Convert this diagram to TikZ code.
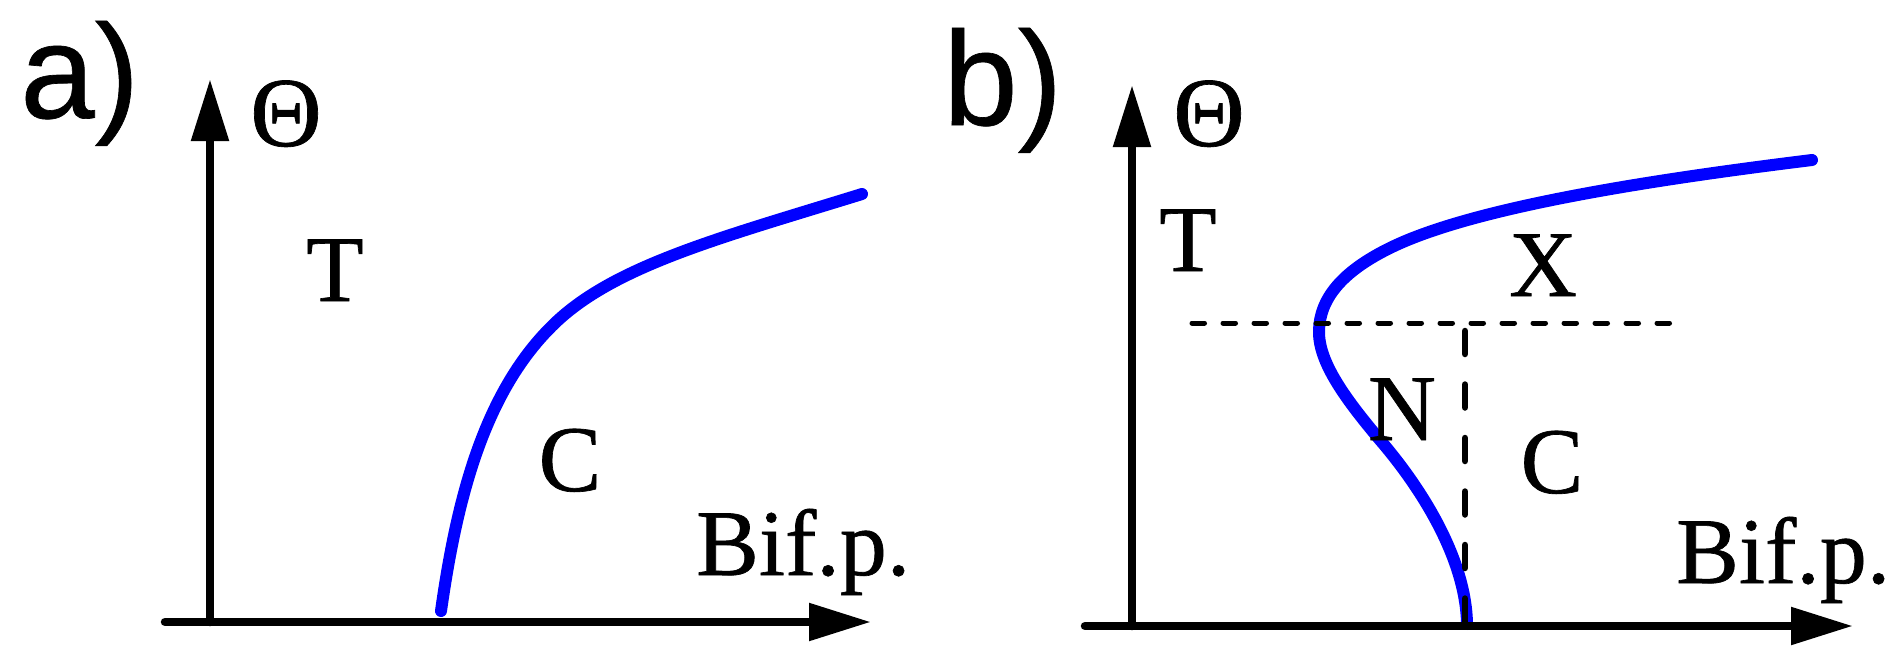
\documentclass[tikz,border=0pt]{standalone}
\usepackage{fontspec}
\setmainfont{Liberation Serif}[FakeBold=0.7]
\newfontfamily\labfont{Liberation Sans}[FakeBold=0.5]
\usetikzlibrary{arrows.meta}
\begin{document}
\begin{tikzpicture}[x=1pt,y=-1pt,
  axis/.style={line width=8.5pt, line cap=round, -{Triangle[length=62pt,width=36pt]}},
  bifcurve/.style={blue, line width=12pt, line cap=round, line join=round},
  hdash/.style={line width=5pt, line cap=round, dash pattern=on 12.5pt off 18.5pt},
  vdash/.style={line width=6.5pt, line cap=round, dash pattern=on 23pt off 30.5pt},
  lab/.style={font=\fontsize{94}{100}\selectfont, inner sep=0pt, anchor=base},
  panel/.style={font=\labfont\fontsize{134}{140}\selectfont, inner sep=0pt, anchor=base west}]
\useasboundingbox (0,0) rectangle (1899,672);
% ---------- panel a ----------
\coordinate (oa) at (210,622);
\coordinate (ya) at (210,79);
\coordinate (xa0) at (165,622);
\coordinate (xa) at (871,622);
\coordinate (ca0) at (441,611);
\coordinate (ca1) at (552,326);
\coordinate (ca2) at (862,194);
\draw[bifcurve] (ca0) .. controls (456,505) and (482,395) .. (ca1)
                      .. controls (612,266) and (720,238) .. (ca2);
\draw[axis] (oa) -- (ya);
\draw[axis] (xa0) -- (xa);
\node[panel] (pa) at (20,118) {a)};
\node[lab, font=\fontsize{99}{100}\selectfont] (tha) at (286,146) {Θ};
\node[lab] (ta) at (335,301) {T};
\node[lab] (ca) at (570,491) {C};
\node[lab, anchor=base west] (ba) at (696,575) {Bif.p.};
% ---------- panel b ----------
\coordinate (ob) at (1132,626);
\coordinate (yb) at (1132,85);
\coordinate (xb0) at (1085,626);
\coordinate (xb) at (1853,626);
\coordinate (h0) at (1192,323);
\coordinate (h1) at (1674,323);
\coordinate (v0) at (1465,331);
\coordinate (v1) at (1465,626);
\coordinate (cb0) at (1467,624);
\coordinate (cb1) at (1380,440);
\coordinate (cb2) at (1319,330);
\coordinate (cb3) at (1392,247);
\coordinate (cb4) at (1812,160);
\draw[bifcurve] (cb0) .. controls (1466,560) and (1423,490) .. (cb1)
                      .. controls (1342,395) and (1318,360) .. (cb2)
                      .. controls (1320,300) and (1340,272) .. (cb3)
                      .. controls (1475,207) and (1650,180) .. (cb4);
\draw[hdash] (h0) -- (h1);
\draw[vdash] (v0) -- (v1);
\draw[axis] (ob) -- (yb);
\draw[axis] (xb0) -- (xb);
\node[panel] (pb) at (943,125) {b)};
\node[lab, font=\fontsize{99}{100}\selectfont] (thb) at (1209,146) {Θ};
\node[lab] (tb) at (1188,271) {T};
\node[lab] (xl) at (1543,296) {X};
\node[lab] (nb) at (1402,440) {N};
\node[lab] (cb) at (1552,493) {C};
\node[lab, anchor=base west] (bb) at (1676,583) {Bif.p.};
\end{tikzpicture}
\end{document}
